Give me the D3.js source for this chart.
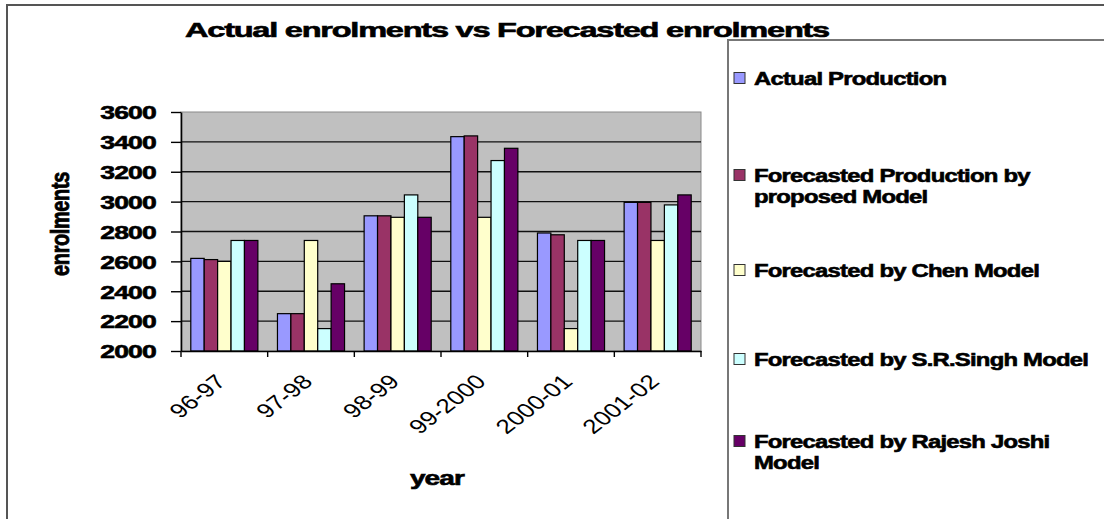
<!DOCTYPE html>
<html>
<head>
<meta charset="utf-8">
<script src="https://cdnjs.cloudflare.com/ajax/libs/d3/7.8.5/d3.min.js"></script>
<style>
  body { margin: 0; background: #fff; }
  text { font-family: "Liberation Sans", Arial, sans-serif; fill: #000; }
  .heavy { font-weight: bold; stroke: #000; stroke-width: 0.6px; }
</style>
</head>
<body>
<div id="chart"></div>
<script>
(function () {
  'use strict';

  // --- data ---
  const categories = ['96-97', '97-98', '98-99', '99-2000', '2000-01', '2001-02'];
  const seriesNames = [
    'Actual Production',
    'Forecasted Production by proposed Model',
    'Forecasted by Chen Model',
    'Forecasted by S.R.Singh Model',
    'Forecasted by Rajesh Joshi Model'
  ];
  const actual   = [2620, 2250, 2905, 3435, 2790, 2995];
  const proposed = [2612, 2250, 2905, 3440, 2778, 2995];
  const chen     = [2600, 2740, 2895, 2895, 2150, 2740];
  const singh    = [2740, 2150, 3045, 3275, 2740, 2978];
  const joshi    = [2740, 2450, 2895, 3357, 2740, 3045];
  const yTicks   = [2000, 2200, 2400, 2600, 2800, 3000, 3200, 3400, 3600];
  const legendLines = [
    ['Actual Production'],
    ['Forecasted Production by', 'proposed Model'],
    ['Forecasted by Chen Model'],
    ['Forecasted by S.R.Singh Model'],
    ['Forecasted by Rajesh Joshi', 'Model']
  ];

  const values = [actual, proposed, chen, singh, joshi];
  const colors = ['#9999ff', '#993366', '#ffffcc', '#ccffff', '#660066'];

  const W = 1104, H = 519;
  const plot = { left: 181, right: 701, top: 112, bottom: 351 };

  const svg = d3.select('#chart').append('svg')
    .attr('width', W).attr('height', H);

  // outer frame + legend box (both run off the picture)
  svg.append('path')
    .attr('d', `M7,${H + 5} V5 H${W + 5}`)
    .attr('fill', 'none').attr('stroke', '#555').attr('stroke-width', 2);
  svg.append('path')
    .attr('d', `M728,${H + 5} V40 H${W + 5}`)
    .attr('fill', 'none').attr('stroke', '#777').attr('stroke-width', 2);

  // stretched text helper (the reference is squashed wide)
  function stext(parent, x, y, sx, str) {
    return parent.append('text')
      .attr('transform', `translate(${x},${y}) scale(${sx},1)`)
      .text(str);
  }

  const x0 = d3.scaleBand().domain(categories).range([plot.left, plot.right]).padding(0);
  const inset = x0.bandwidth() * 0.113;
  const x1 = d3.scaleBand().domain(d3.range(seriesNames.length))
    .range([inset, x0.bandwidth() - inset]).padding(0);
  const y = d3.scaleLinear().domain([2000, 3600]).range([plot.bottom, plot.top]);

  // plot background
  svg.append('rect')
    .attr('x', plot.left).attr('y', plot.top)
    .attr('width', plot.right - plot.left).attr('height', plot.bottom - plot.top)
    .attr('fill', '#c0c0c0').attr('stroke', '#8a8a8a').attr('stroke-width', 1);

  // gridlines
  svg.append('g').selectAll('line')
    .data(yTicks.slice(1, -1))
    .enter().append('line')
    .attr('x1', plot.left).attr('x2', plot.right)
    .attr('y1', (d) => y(d)).attr('y2', (d) => y(d))
    .attr('stroke', '#111').attr('stroke-width', 1.4);

  // bars
  const groups = svg.append('g').selectAll('g')
    .data(categories)
    .enter().append('g')
    .attr('transform', (c) => `translate(${x0(c)},0)`);

  groups.selectAll('rect')
    .data((c, ci) => values.map((arr, si) => ({ si, v: arr[ci] })))
    .enter().append('rect')
    .attr('x', (d) => x1(d.si))
    .attr('y', (d) => y(d.v))
    .attr('width', x1.bandwidth())
    .attr('height', (d) => y(2000) - y(d.v))
    .attr('fill', (d) => colors[d.si])
    .attr('stroke', '#000').attr('stroke-width', 1.2);

  // y axis
  const yAxis = svg.append('g')
    .attr('transform', `translate(${plot.left},0)`)
    .call(d3.axisLeft(y).tickValues(yTicks).tickFormat(d3.format('d'))
      .tickSize(10).tickSizeOuter(0).tickPadding(0));
  yAxis.select('.domain').attr('stroke', '#000').attr('stroke-width', 1.6);
  yAxis.selectAll('.tick line').attr('stroke', '#000').attr('stroke-width', 1.4);
  yAxis.selectAll('.tick text')
    .attr('class', 'heavy')
    .attr('x', -25 / 1.4)
    .attr('transform', 'scale(1.4,1)')
    .attr('dy', '0.36em')
    .style('letter-spacing', '-0.6px')
    .style('font-size', '19px')
    .style('font-family', '"Liberation Sans", Arial, sans-serif');

  // x axis: line, boundary ticks, rotated labels
  const xAxis = svg.append('g')
    .attr('transform', `translate(0,${plot.bottom})`)
    .call(d3.axisBottom(x0).tickSize(0).tickSizeOuter(0).tickPadding(0));
  xAxis.select('.domain').attr('stroke', '#000').attr('stroke-width', 1.6);
  xAxis.selectAll('.tick text')
    .attr('y', null).attr('dy', null)
    .attr('text-anchor', 'end')
    .attr('transform', 'translate(3,32) scale(1.3,1) rotate(-45)')
    .style('font-size', '20px')
    .style('font-family', '"Liberation Sans", Arial, sans-serif');
  xAxis.append('g').selectAll('line')
    .data(categories.map((c) => x0(c)).concat([plot.right]))
    .enter().append('line')
    .attr('x1', (d) => d).attr('x2', (d) => d)
    .attr('y1', 0).attr('y2', 6)
    .attr('stroke', '#000').attr('stroke-width', 1.4);

  // titles
  stext(svg, 507, 37, 1.55, 'Actual enrolments vs Forecasted enrolments')
    .attr('class', 'heavy')
    .attr('text-anchor', 'middle')
    .style('letter-spacing', '-0.8px')
    .style('font-size', '21px');
  stext(svg, 437, 485, 1.4, 'year')
    .attr('class', 'heavy')
    .attr('text-anchor', 'middle')
    .style('letter-spacing', '-0.6px')
    .style('font-size', '20px');
  svg.append('text')
    .attr('class', 'heavy')
    .attr('transform', 'translate(69,224) rotate(-90) scale(1,1.3)')
    .attr('text-anchor', 'middle')
    .style('letter-spacing', '-0.4px')
    .style('font-size', '20px')
    .text('enrolments');

  // legend
  const legendY = [78, 175, 270, 359, 441];
  const legend = svg.append('g');
  legendLines.forEach((lines, i) => {
    legend.append('rect')
      .attr('x', 734).attr('y', legendY[i] - 5.5)
      .attr('width', 11).attr('height', 11)
      .attr('fill', colors[i]).attr('stroke', '#333').attr('stroke-width', 1);
    lines.forEach((ln, k) => {
      stext(legend, 754, legendY[i] + 7 + k * 21, 1.29, ln)
        .attr('class', 'heavy')
        .style('letter-spacing', '-0.6px')
        .style('font-size', '18.5px');
    });
  });
})();
</script>
</body>
</html>
